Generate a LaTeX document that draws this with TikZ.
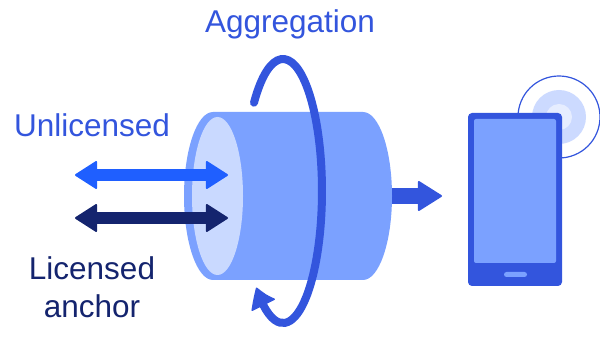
\documentclass[tikz,border=0pt]{standalone}
\usepackage{fontspec}
\setmainfont{Liberation Sans}
\usetikzlibrary{arrows.meta,bending}
\definecolor{royal}{HTML}{3355DD}
\definecolor{bodyblue}{HTML}{7BA1FF}
\definecolor{paleblue}{HTML}{C9D9FF}
\definecolor{brightblue}{HTML}{1F5FFF}
\definecolor{navy}{HTML}{14246E}
\definecolor{haloA}{HTML}{CCDAFF}
\definecolor{haloB}{HTML}{E6EDFF}
\begin{document}
\begin{tikzpicture}[x=1pt,y=1pt,
  txt/.style={font=\fontsize{31.5}{38}\selectfont, inner sep=0pt, anchor=base},
  fatarrow/.style={line width=12pt, {Triangle[length=23pt,width=29pt,line width=2pt,round]}-{Triangle[length=23pt,width=29pt,line width=2pt,round]}}]
\useasboundingbox (0,0) rectangle (600,337);

% signal halo behind the handset
\fill[haloA] (559,220) circle (27);
\fill[haloB] (559,220) circle (13);
\draw[royal, line width=1.2pt] (559,220) circle (41);

% handset
\fill[royal, rounded corners=4pt] (468,51) rectangle (562,224);
\fill[bodyblue, rounded corners=2pt] (474,74) rectangle (556,218);
\fill[bodyblue, rounded corners=2.5pt] (504,60) rectangle (527,65);

% output arrow towards the handset
\coordinate (out0) at (385,141);
\coordinate (out1) at (442,141);
\draw[royal, line width=16pt, -{Triangle[length=25pt,width=31pt,line width=2pt,round]}] (out0) -- (out1);

% aggregation cylinder
\coordinate (cyl) at (213,141);
\fill[bodyblue] (213,225) -- (363,225)
  arc[start angle=90,end angle=-90,x radius=29,y radius=84]
  -- (213,57)
  arc[start angle=270,end angle=90,x radius=29,y radius=84] -- cycle;
\fill[paleblue] (217.5,141) ellipse [x radius=25.5, y radius=79];

% rotating ring around the cylinder
\coordinate (ring0) at (254.0,234.3);
\draw[royal, line width=8pt, line cap=round,
  -{Triangle[length=21pt,width=27pt,line width=1.5pt,round,bend]}]
  (ring0) arc[start angle=138,end angle=-133,x radius=39,y radius=132];

% carrier arrows
\coordinate (ul) at (75,162);
\coordinate (ur) at (228,162);
\coordinate (ll) at (75,119);
\coordinate (lr) at (228,119);
\draw[fatarrow, brightblue] (ul) -- (ur);
\draw[fatarrow, navy] (ll) -- (lr);

% labels
\node[txt, royal] (agg) at (290,304) {Aggregation};
\node[txt, royal] (unl) at (92,200) {Unlicensed};
\node[txt, navy, align=center] (lic) at (92,19) {Licensed\\anchor};
\end{tikzpicture}
\end{document}
